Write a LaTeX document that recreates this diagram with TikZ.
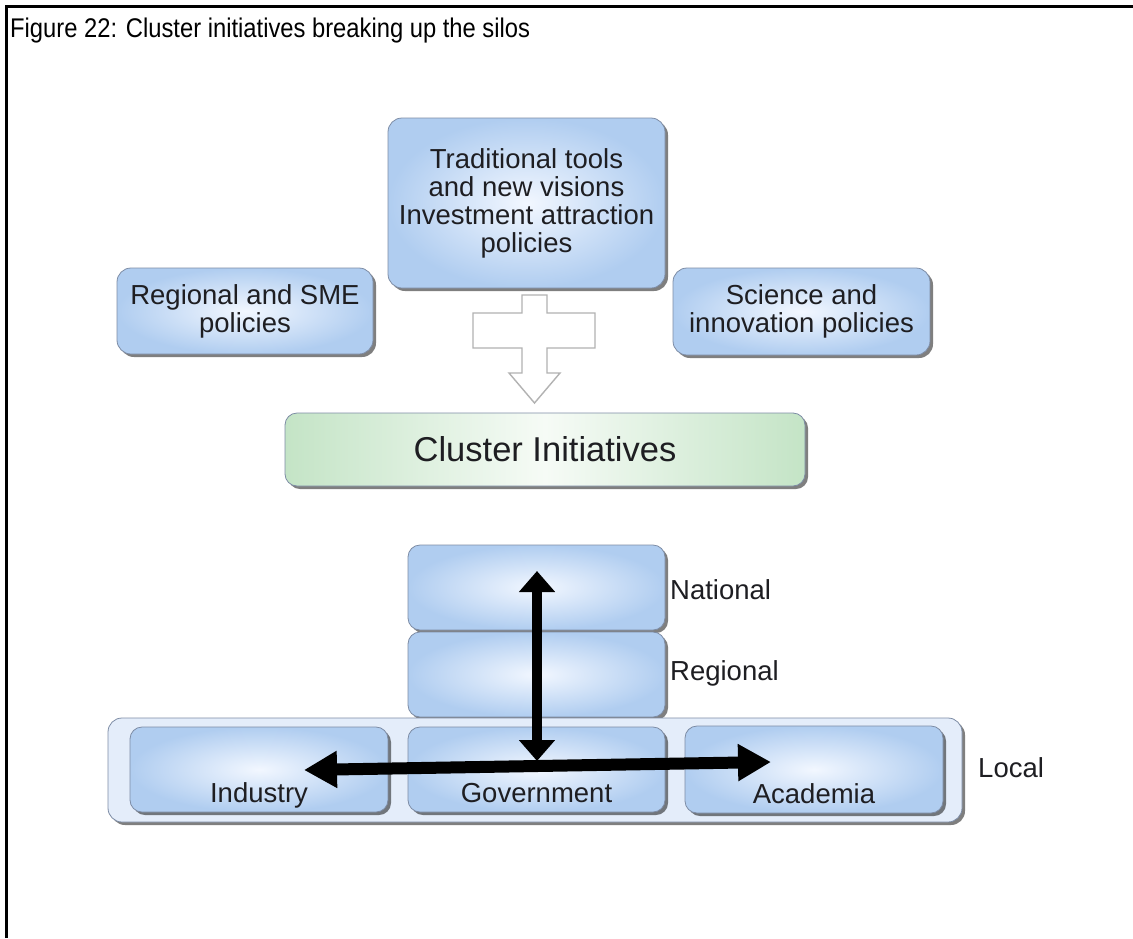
\documentclass[tikz,border=0pt]{standalone}
\usepackage{fontspec}
\setmainfont{Liberation Sans}
\newfontfamily\titlefont[FakeStretch=0.88]{Liberation Sans}
\usetikzlibrary{arrows.meta,shadows}
\definecolor{txt}{RGB}{30,30,34}
\definecolor{bluein}{RGB}{242,247,255}
\definecolor{blueout}{RGB}{176,205,240}
\definecolor{boxedge}{RGB}{125,140,165}
\definecolor{greenout}{RGB}{196,228,198}
\definecolor{greenin}{RGB}{246,251,246}
\definecolor{localfill}{RGB}{228,237,250}
\definecolor{crossedge}{RGB}{178,178,178}
\tikzset{
  boxtext/.style={font=\fontsize{27.5}{28}\selectfont, text=txt, align=center},
  shade3/.style={drop shadow={shadow xshift=3pt, shadow yshift=-3pt, fill=black, opacity=0.5}},
  bluebox/.style={draw=boxedge, line width=0.8pt, rounded corners=14pt,
    inner color=bluein, outer color=blueout, shade3, inner sep=0pt},
  greenbox/.style={draw=boxedge, line width=0.8pt, rounded corners=12pt,
    left color=greenout, right color=greenout, middle color=greenin, shade3, inner sep=0pt},
  lvl/.style={font=\fontsize{27.5}{28}\selectfont, text=txt, anchor=west, inner sep=0pt},
  bigarrow/.style={line width=#1, draw=black},
  vhead/.tip={Triangle[width=35pt,length=21pt]},
  hhead/.tip={Triangle[width=35pt,length=33pt]},
}
\begin{document}
\begin{tikzpicture}[x=1pt,y=-1pt]
\useasboundingbox (0,0) rectangle (1133,938);
\fill[white] (0,0) rectangle (1133,938);
% frame
\draw[line width=3pt] (6,938) -- (6,6) -- (1133,6);
\node[anchor=base west, inner sep=0pt, font=\titlefont\fontsize{27}{28}\selectfont] (title) at (10,37) {Figure 22: Cluster initiatives breaking up the silos};

% top policy boxes
\node[bluebox, boxtext, minimum width=277pt, minimum height=170pt] (trad) at (526.5,203)
  {Traditional tools\\and new visions\\Investment attraction\\policies};
\node[bluebox, boxtext, minimum width=256pt, minimum height=86pt] (sme) at (245,311)
  {Regional and SME\\policies};
\node[bluebox, boxtext, minimum width=257pt, minimum height=87pt] (sci) at (801.5,311.5)
  {Science and\\innovation policies};

% hollow cross arrow
\draw[draw=crossedge, line width=1.4pt, fill=white, line join=miter]
  (522,295) -- (547,295) -- (547,313) -- (595,313) -- (595,348) -- (547,348) -- (547,373)
  -- (560,373) -- (534.5,403) -- (509,373) -- (522,373) -- (522,348) -- (473,348)
  -- (473,313) -- (522,313) -- cycle;

% cluster initiatives
\node[greenbox, text=txt, font=\fontsize{34.5}{36}\selectfont, minimum width=520pt, minimum height=73pt] (ci) at (545,449.5)
  {Cluster Initiatives};

% levels
\node[bluebox, minimum width=257pt, minimum height=85pt, rounded corners=12pt] (nat) at (536.5,587.5) {};
\node[bluebox, minimum width=257pt, minimum height=85pt, rounded corners=12pt] (reg) at (536.5,674.5) {};
\node[draw=boxedge, line width=0.8pt, rounded corners=14pt, fill=localfill, shade3,
  minimum width=854pt, minimum height=104pt, inner sep=0pt] (local) at (535,770) {};
\node[bluebox, minimum width=258pt, minimum height=85pt, rounded corners=12pt] (ind) at (259,769.5) {};
\node[bluebox, minimum width=257pt, minimum height=85pt, rounded corners=12pt] (gov) at (536.5,769.5) {};
\node[bluebox, minimum width=258pt, minimum height=87pt, rounded corners=12pt] (aca) at (814,769.5) {};

\node[boxtext, anchor=base] (indt) at ([yshift=10pt]ind.south) {Industry};
\node[boxtext, anchor=base] (govt) at ([yshift=10pt]gov.south) {Government};
\node[boxtext, anchor=base] (acat) at ([yshift=10pt]aca.south) {Academia};

\node[lvl] (natl) at (670,590) {National};
\node[lvl] (regl) at (670,673) {Regional};
\node[lvl] (locl) at (978,768) {Local};

% arrows
\coordinate (vtop) at (537,571);
\coordinate (vbot) at (537,761);
\coordinate (hl) at (304,770);
\coordinate (hr) at (771,762);
\draw[bigarrow=12pt, {hhead}-{hhead}] (hl) -- (hr);
\draw[bigarrow=10pt, {vhead}-{vhead}] (vtop) -- (vbot);
\end{tikzpicture}
\end{document}
